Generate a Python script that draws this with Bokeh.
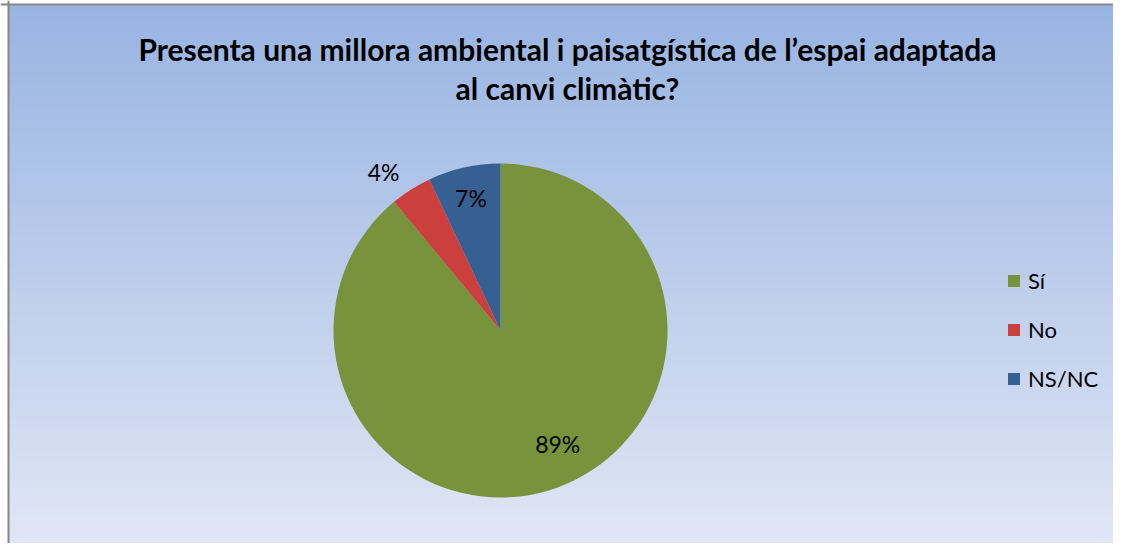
import numpy as np
from bokeh.plotting import figure
from bokeh.models import Range1d, Legend, LegendItem, Span
from bokeh.core.properties import value
from bokeh.embed import file_html
from bokeh.resources import INLINE

# ---- data ----
categories = ["Sí", "No", "NS/NC"]
percent = [89, 4, 7]
pct_labels = ["89%", "4%", "7%"]
colors = ["#77933C", "#CB403D", "#376092"]
title_lines = ["Presenta una millora ambiental i paisatgística de l’espai adaptada",
               "al canvi climàtic?"]

# label placement styles (fraction of radius, angular nudge in degrees)
label_rfrac = [0.76, 1.18, 0.81]
label_nudge = [7, 4, 0]

W, H = 1113, 543
p = figure(width=W, height=H, x_range=Range1d(0, W), y_range=Range1d(0, H),
           output_backend="svg", toolbar_location=None, min_border=0)
p.axis.visible = False
p.grid.visible = False
p.outline_line_color = None
p.background_fill_color = "white"
p.border_fill_color = "white"

# ---- background gradient ----
x0, ytop = 8, 4
GH = H - ytop
top = np.array([152, 180, 226])
bot = np.array([224, 230, 245])
t = np.linspace(0, 1, GH)[:, None]
cols = bot + (top - bot) * t
img = np.zeros((GH, 1), dtype=np.uint32)
view = img.view(dtype=np.uint8).reshape((GH, 1, 4))
view[:, 0, 0] = cols[:, 0].round()
view[:, 0, 1] = cols[:, 1].round()
view[:, 0, 2] = cols[:, 2].round()
view[:, 0, 3] = 255
p.image_rgba(image=[img], x=x0, y=0, dw=W - x0, dh=GH)

p.add_layout(Span(location=x0, dimension="height", line_color="#878787", line_width=2))
p.add_layout(Span(location=H - ytop, dimension="width", line_color="#878787", line_width=2))

# ---- pie ----
cx, cy, R = 500, 213, 167
fr = np.array(percent, dtype=float) / sum(percent)
cum = np.concatenate([[0], np.cumsum(fr)])
start = np.pi / 2 - 2 * np.pi * cum[:-1]
end = np.pi / 2 - 2 * np.pi * cum[1:]
renderers = []
for i in range(len(categories)):
    r = p.wedge(x=cx, y=cy, radius=R, start_angle=start[i], end_angle=end[i],
                direction="clock", fill_color=colors[i], line_color=None)
    renderers.append(r)

mid = (start + end) / 2 + np.radians(label_nudge)
lx = cx + np.array(label_rfrac) * R * np.cos(mid)
ly = cy + np.array(label_rfrac) * R * np.sin(mid)
p.text(x=lx, y=ly, text=pct_labels, text_align="center", text_baseline="middle",
       text_font=value("Lato"), text_font_size="23px", text_color="black")

# ---- title ----
p.text(x=[567, 567], y=[H - 48, H - 87], text=title_lines, text_align="center",
       text_baseline="middle", text_font=value("Lato"), text_font_size="30px",
       text_font_style="bold", text_color="black")

# ---- legend ----
items = [LegendItem(label=categories[i], renderers=[renderers[i]]) for i in range(len(categories))]
leg = Legend(items=items, location=(1006, 151), orientation="vertical",
             glyph_width=15, glyph_height=15, label_height=26, spacing=22,
             label_standoff=7, padding=0, margin=0,
             label_text_font="Lato", label_text_font_size="22px",
             label_text_color="black",
             background_fill_alpha=0, border_line_color=None)
p.add_layout(leg, "center")

open("out.html", "w").write(file_html(p, INLINE))
